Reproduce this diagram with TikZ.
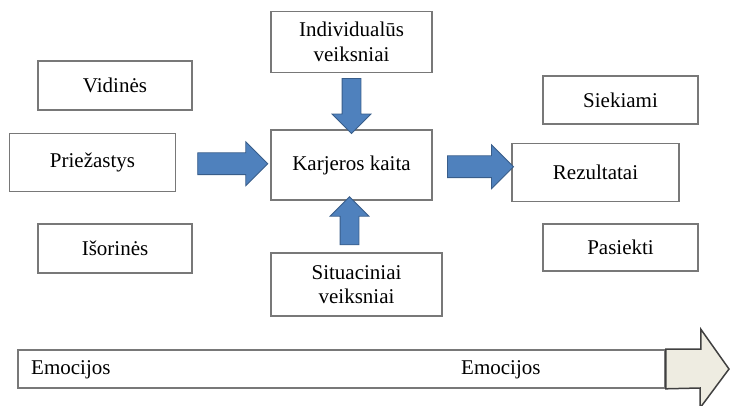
\documentclass[tikz,border=0pt]{standalone}
\usepackage{fontspec}
\setmainfont{Liberation Serif}
\usetikzlibrary{positioning,shapes.arrows,calc}
\definecolor{boxgray}{RGB}{120,120,120}
\definecolor{arrowblue}{RGB}{79,129,189}
\definecolor{arrowedge}{RGB}{56,93,138}
\definecolor{headbeige}{RGB}{238,236,225}
\newcommand{\txt}{\fontsize{21}{24.5}\selectfont}

\begin{document}
\begin{tikzpicture}[x=1pt, y=-1pt,
    box/.style={draw=boxgray, line width=1.6pt, fill=white, align=center, font=\txt, inner sep=0pt},
    blockarrow/.style={single arrow, draw=arrowedge, fill=arrowblue, line width=0.8pt, inner sep=10.5pt, single arrow head extend=11pt, single arrow head indent=0pt, minimum height=#1},
    thinarrow/.style={blockarrow=#1, inner sep=9pt, single arrow head extend=10pt},
    label/.style={font=\txt, anchor=west, inner sep=0pt}
]
\useasboundingbox (0,0) rectangle (731,406);

% Causes on the left
\node[box, minimum width=154pt, minimum height=49pt] (inner) at (115,85.5) {Vidinės};
\node[box, minimum width=166pt, minimum height=58pt] (cause) at (92.5,162.5) {Priežastys};
\node[box, minimum width=154pt, minimum height=49pt] (outer) at (115,248.5) {Išorinės};

% Central column
\node[box, minimum width=161pt, minimum height=61pt] (indiv) at (351.5,42) {Individualūs\\veiksniai};
\node[box, minimum width=161pt, minimum height=70pt] (change) at (351.5,165) {Karjeros kaita};
\node[box, minimum width=171pt, minimum height=63pt] (situ) at (356.5,284.5) {Situaciniai\\veiksniai};

% Results on the right
\node[box, minimum width=155pt, minimum height=48pt] (sought) at (620.5,100) {Siekiami};
\node[box, minimum width=167pt, minimum height=58pt] (result) at (595.5,172.5) {Rezultatai};
\node[box, minimum width=155pt, minimum height=47pt] (reached) at (620.5,247.5) {Pasiekti};

% Block arrows between the boxes
\node[blockarrow=70pt] (causearrow) at ($(cause.east)!0.5!(change.west)+(4,0)$) {};
\node[blockarrow=66pt] (resultarrow) at ($(change.east)!0.5!(result.west)+(3,-2)$) {};
\node[thinarrow=55pt, shape border rotate=270] (indivarrow) at ($(indiv.south)!0.5!(change.north)$) {};
\node[thinarrow=48pt, shape border rotate=90] (situarrow) at ($(situ.north)!0.5!(change.south)+(-4.5,-1)$) {};

% Emotions along the time line
\node[draw=boxgray, line width=1.6pt, fill=white, minimum width=647pt, minimum height=38pt, inner sep=0pt] (emotions) at (341.5,369) {};
\draw[draw=black!75, fill=headbeige, line width=1.5pt, line join=miter]
  (emotions.north east) -- ++(35,0) -- ++(0,-20) -- (729,369) -- (700,408) -- ++(0,-20) -- (emotions.south east) -- cycle;
\node[label] (emostart) at (31,370) {Emocijos};
\node[label] (emoend) at (461,370) {Emocijos};

\end{tikzpicture}
\end{document}
